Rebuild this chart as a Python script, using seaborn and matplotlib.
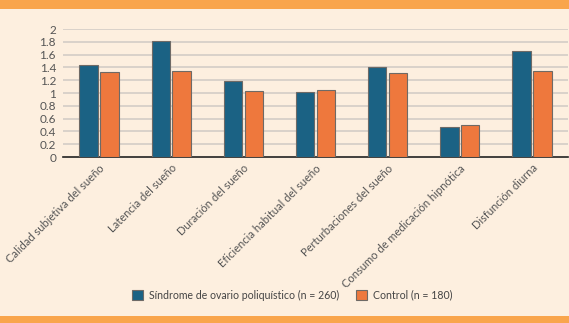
import pandas as pd
import numpy as np
import matplotlib
matplotlib.use('Agg')
import matplotlib.pyplot as plt
import seaborn as sns
from matplotlib.patches import Rectangle

# Data
categories = ['Calidad subjetiva del sueño', 'Latencia del sueño', 'Duración del sueño',
              'Eficiencia habitual del sueño', 'Perturbaciones del sueño',
              'Consumo de medicación hipnótica', 'Disfunción diurna']
sop_values = [1.44, 1.82, 1.19, 1.01, 1.40, 0.47, 1.65]
control_values = [1.33, 1.35, 1.03, 1.05, 1.31, 0.50, 1.34]
series_names = ['Síndrome de ovario poliquístico (n = 260)', 'Control (n = 180)']
yticks = [0, 0.2, 0.4, 0.6, 0.8, 1, 1.2, 1.4, 1.6, 1.8, 2]
ytick_labels = ['0', '0.2', '0.4', '0.6', '0.8', '1', '1.2', '1.4', '1.6', '1.8', '2']

bg = '#FDEFDF'
colors = ['#1B6284', '#EE783D']

df = pd.DataFrame({
    'cat': categories * 2,
    'value': sop_values + control_values,
    'group': [series_names[0]] * 7 + [series_names[1]] * 7,
})

sns.set_theme(style='white')
plt.rcParams['font.family'] = ['Lato', 'DejaVu Sans']

fig = plt.figure(figsize=(5.69, 3.23), dpi=100, facecolor=bg)
ax = fig.add_axes([63 / 569, 1 - 157 / 323, 505 / 569, 128 / 323])
ax.set_facecolor(bg)

# horizontal grid lines running to the right edge
for t in yticks[1:]:
    ax.axhline(t, color='#D3CDC6', lw=1.2, zorder=0)

sns.barplot(data=df, x='cat', y='value', hue='group', palette=colors, ax=ax,
            width=0.58, gap=0.12, edgecolor='#6E6A66', linewidth=0.8,
            saturation=1, legend=False, zorder=3)

ax.set_xlim(-0.5, 6.5)
ax.set_ylim(0, 2)
ax.set_yticks(yticks)
ax.set_yticklabels(ytick_labels, fontsize=8.5, color='#555555')
ax.tick_params(axis='both', length=0, pad=5)
ax.set_xticks(range(len(categories)))
ax.set_xticklabels(categories, rotation=45, ha='right', rotation_mode='anchor',
                   fontsize=8, color='#555555')
ax.tick_params(axis='x', pad=4)
ax.set_xlabel('')
ax.set_ylabel('')
for s in ['top', 'right', 'left']:
    ax.spines[s].set_visible(False)
ax.spines['bottom'].set_color('#222222')
ax.spines['bottom'].set_linewidth(1.2)

# legend
handles = [Rectangle((0, 0), 1, 1, facecolor=c, edgecolor='#6E6A66', lw=0.8) for c in colors]
fig.legend(handles, series_names, loc='center', bbox_to_anchor=(292 / 569, 1 - 295 / 323),
           ncol=2, frameon=False, fontsize=7.6, handlelength=1.1, handleheight=1.1,
           columnspacing=1.6, handletextpad=0.5, labelcolor='#444444')

# orange bands top and bottom
fig.patches.append(Rectangle((0, 1 - 9 / 323), 1, 9 / 323, transform=fig.transFigure,
                             facecolor='#F9A54C', edgecolor='none', zorder=0))
fig.patches.append(Rectangle((0, 0), 1, 7 / 323, transform=fig.transFigure,
                             facecolor='#F9A54C', edgecolor='none', zorder=0))

fig.savefig('out.png', dpi=100, facecolor=bg)
